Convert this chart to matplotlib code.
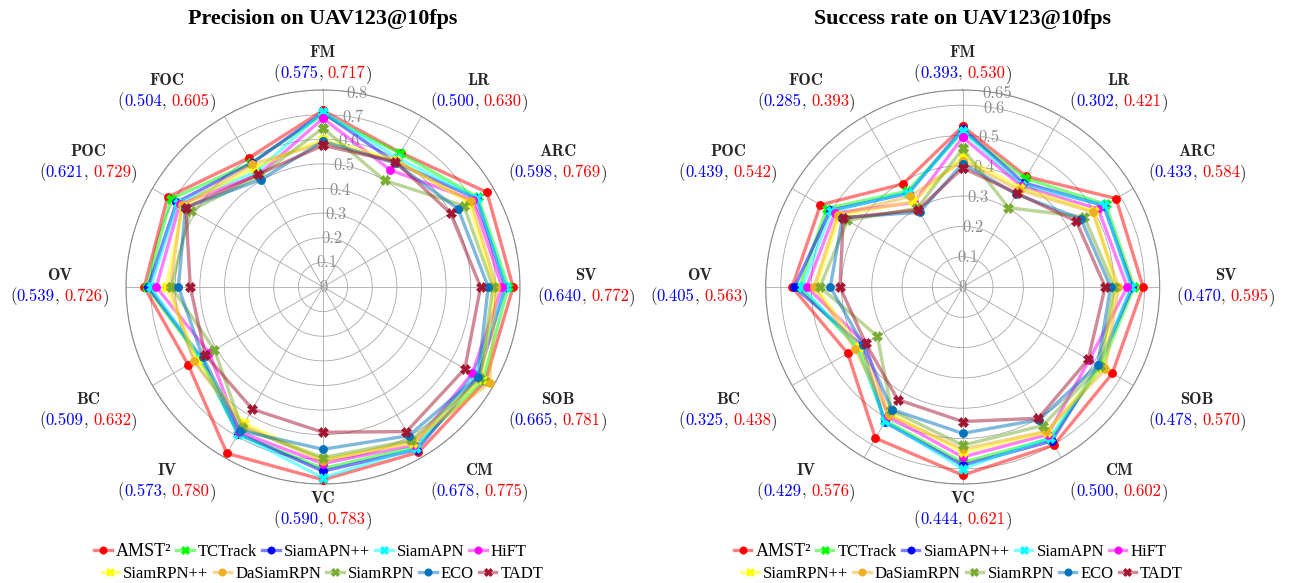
import numpy as np
import matplotlib
matplotlib.use('Agg')
import matplotlib.pyplot as plt
from matplotlib.colors import to_rgba
from matplotlib.lines import Line2D
from matplotlib.offsetbox import TextArea, HPacker, VPacker, AnnotationBbox, DrawingArea

# ---------------- data ----------------
attributes = ['FM', 'LR', 'ARC', 'SV', 'SOB', 'CM', 'VC', 'IV', 'BC', 'OV', 'POC', 'FOC']
trackers = ['AMST²', 'TCTrack', 'SiamAPN++', 'SiamAPN', 'HiFT',
            'SiamRPN++', 'DaSiamRPN', 'SiamRPN', 'ECO', 'TADT']

# Precision on UAV123@10fps, one list per attribute, tracker order as above
prec_FM  = [0.717, 0.700, 0.708, 0.712, 0.685, 0.600, 0.585, 0.645, 0.592, 0.575]
prec_LR  = [0.630, 0.627, 0.585, 0.605, 0.548, 0.595, 0.590, 0.500, 0.582, 0.588]
prec_ARC = [0.769, 0.727, 0.720, 0.722, 0.705, 0.684, 0.695, 0.660, 0.634, 0.598]
prec_SV  = [0.772, 0.752, 0.740, 0.745, 0.727, 0.698, 0.704, 0.690, 0.671, 0.640]
prec_SOB = [0.762, 0.752, 0.728, 0.705, 0.700, 0.745, 0.781, 0.738, 0.727, 0.665]
prec_CM  = [0.775, 0.750, 0.762, 0.755, 0.740, 0.731, 0.722, 0.718, 0.697, 0.678]
prec_VC  = [0.783, 0.737, 0.748, 0.775, 0.717, 0.700, 0.707, 0.693, 0.659, 0.590]
prec_IV  = [0.780, 0.690, 0.688, 0.690, 0.680, 0.640, 0.650, 0.660, 0.673, 0.573]
prec_BC  = [0.632, 0.578, 0.572, 0.575, 0.534, 0.590, 0.605, 0.509, 0.565, 0.552]
prec_OV  = [0.726, 0.716, 0.710, 0.700, 0.677, 0.636, 0.620, 0.616, 0.587, 0.539]
prec_POC = [0.729, 0.714, 0.687, 0.682, 0.672, 0.658, 0.662, 0.621, 0.645, 0.643]
prec_FOC = [0.605, 0.582, 0.580, 0.540, 0.525, 0.560, 0.575, 0.520, 0.504, 0.528]

# Success rate on UAV123@10fps
succ_FM  = [0.530, 0.512, 0.522, 0.514, 0.494, 0.428, 0.417, 0.457, 0.407, 0.393]
succ_LR  = [0.421, 0.414, 0.398, 0.390, 0.385, 0.379, 0.370, 0.302, 0.354, 0.357]
succ_ARC = [0.584, 0.545, 0.537, 0.540, 0.516, 0.500, 0.495, 0.463, 0.450, 0.433]
succ_SV  = [0.595, 0.565, 0.560, 0.555, 0.543, 0.505, 0.514, 0.500, 0.488, 0.470]
succ_SOB = [0.570, 0.527, 0.518, 0.520, 0.482, 0.530, 0.543, 0.522, 0.514, 0.478]
succ_CM  = [0.602, 0.578, 0.587, 0.575, 0.562, 0.553, 0.550, 0.528, 0.505, 0.500]
succ_VC  = [0.621, 0.579, 0.588, 0.599, 0.561, 0.546, 0.535, 0.522, 0.483, 0.444]
succ_IV  = [0.576, 0.510, 0.515, 0.512, 0.492, 0.480, 0.488, 0.470, 0.467, 0.429]
succ_BC  = [0.438, 0.400, 0.385, 0.400, 0.372, 0.395, 0.410, 0.325, 0.380, 0.370]
succ_OV  = [0.563, 0.539, 0.555, 0.530, 0.515, 0.484, 0.490, 0.471, 0.437, 0.405]
succ_POC = [0.542, 0.518, 0.505, 0.500, 0.487, 0.470, 0.477, 0.439, 0.458, 0.455]
succ_FOC = [0.393, 0.365, 0.357, 0.360, 0.322, 0.326, 0.345, 0.300, 0.285, 0.294]

prec_rings = [0.1, 0.2, 0.3, 0.4, 0.5, 0.6, 0.7, 0.8]
succ_rings = [0.1, 0.2, 0.3, 0.4, 0.5, 0.6, 0.65]

titles = ['Precision on UAV123@10fps', 'Success rate on UAV123@10fps']

# ---------------- styles ----------------
colors = ['#FF0000', '#00FF00', '#0000FF', '#00FFFF', '#FF00FF',
          '#FFFF00', '#EDB120', '#77AC30', '#0072BD', '#A2142F']
markers = ['o', 'X', 'o', 'X', 'o', 'X', 'o', 'X', 'o', 'X']
msizes = [5.8 if m == 'o' else 6.8 for m in markers]
LINE_ALPHA = 0.5
LW = 2.4
TXT = '#262626'
GRID = '#a8a8a8'
LEG_FS = 12

prec = np.array([prec_FM, prec_LR, prec_ARC, prec_SV, prec_SOB, prec_CM,
                 prec_VC, prec_IV, prec_BC, prec_OV, prec_POC, prec_FOC])
succ = np.array([succ_FM, succ_LR, succ_ARC, succ_SV, succ_SOB, succ_CM,
                 succ_VC, succ_IV, succ_BC, succ_OV, succ_POC, succ_FOC])

W, H = 1291, 583
fig = plt.figure(figsize=(W / 100, H / 100), dpi=100)

R_PX = 197.0
centers = [(323.0, 287.0), (962.7, 287.0)]

n = len(attributes)
theta = np.arange(n) * 2 * np.pi / n

handles = [Line2D([], [], color=to_rgba(colors[k], LINE_ALPHA), lw=LW,
                  marker=markers[k], ms=msizes[k] * 0.9, mfc=colors[k],
                  mec=colors[k], mew=0.5) for k in range(len(trackers))]


def add_legend_row(sl, xc, yc, cs):
    leg = fig.legend(handles[sl], trackers[sl], loc='center',
                     bbox_to_anchor=(xc / W, 1 - yc / H), ncol=5,
                     frameon=False, prop={'family': 'Liberation Serif', 'size': LEG_FS},
                     handlelength=1.05, handletextpad=0.25, columnspacing=cs,
                     borderpad=0, borderaxespad=0)
    if sl.start == 0:
        leg.get_texts()[0].set_fontsize(13)
    return leg


def make_radar(center, data, rings, title):
    cx, cy = center
    rect = [(cx - R_PX) / W, 1 - (cy + R_PX) / H, 2 * R_PX / W, 2 * R_PX / H]
    ax = fig.add_axes(rect, projection='polar')
    ax.set_theta_zero_location('N')
    ax.set_theta_direction(-1)
    rmax = rings[-1]
    ax.set_ylim(0, rmax)
    ax.set_xticks(theta)
    ax.set_xticklabels([])
    ax.set_yticks(rings)
    ax.set_yticklabels([])
    ax.grid(True, color=GRID, lw=0.6)
    ax.spines['polar'].set_color('#8a8a8a')
    ax.spines['polar'].set_linewidth(0.8)
    ax.tick_params(length=0)

    # ring labels
    for r in [0] + list(rings):
        ax.text(np.deg2rad(10), r, f'{r:g}', ha='center', va='center',
                color='#8c8c8c', fontsize=12, family='cmr10', zorder=1)

    # series
    th_c = np.append(theta, theta[0])
    for k in range(len(trackers)):
        v = np.append(data[:, k], data[0, k])
        ax.plot(th_c, v, color=to_rgba(colors[k], LINE_ALPHA), lw=LW,
                marker=markers[k], ms=msizes[k], mfc=colors[k], mec=colors[k],
                mew=0.5, zorder=3 + k * 0.01, clip_on=False)

    # attribute labels with (min, max)
    for i, name in enumerate(attributes):
        phi = np.pi / 2 - theta[i]
        c, s = np.cos(phi), np.sin(phi)
        bx = 0.0 if c > 0.01 else (1.0 if c < -0.01 else 0.5)
        shift = 0.25 if abs(s) > 0.7 else 0.05
        by = shift if s > 0.01 else (1.0 - shift if s < -0.01 else 0.5)
        vmin, vmax = data[i].min(), data[i].max()
        name_ta = TextArea(name, textprops=dict(family='cmb10', fontsize=12, color=TXT))
        parts = [
            TextArea('(', textprops=dict(family='cmr10', fontsize=12, color=TXT)),
            TextArea(f'{vmin:.3f}', textprops=dict(family='cmr10', fontsize=12, color='#0000FF')),
            TextArea(',', textprops=dict(family='cmr10', fontsize=12, color=TXT)),
            DrawingArea(3.6, 1),
            TextArea(f'{vmax:.3f}', textprops=dict(family='cmr10', fontsize=12, color='#FF0000')),
            TextArea(')', textprops=dict(family='cmr10', fontsize=12, color=TXT)),
        ]
        vals = HPacker(children=parts, align='baseline', pad=0, sep=0)
        box = VPacker(children=[name_ta, vals], align='center', pad=0, sep=3)
        ab = AnnotationBbox(box, (theta[i], rmax * 1.086), xycoords='data',
                            box_alignment=(bx, by), frameon=False, pad=0,
                            annotation_clip=False)
        ax.add_artist(ab)

    fig.text(cx / W, 1 - 19 / H, title, ha='center', va='center', fontsize=15.8,
             fontweight='bold', family='Liberation Serif', color='black')

    # legend rows: fit column spacing so each row spans the reference width
    rows = [(slice(0, 5), cx - 12.5, 551, 421), (slice(5, 10), cx - 0.5, 574, 435)]
    renderer = fig.canvas.get_renderer()
    fs_px = LEG_FS * 100 / 72
    for sl, lx, ly, wpx in rows:
        cs0 = 0.5
        leg = add_legend_row(sl, lx, ly, cs0)
        w0 = leg.get_window_extent(renderer).width
        leg.remove()
        cs = max(0.3, cs0 + (wpx - w0) / (4 * fs_px))
        add_legend_row(sl, lx, ly, cs)
    return ax


make_radar(centers[0], prec, prec_rings, titles[0])
make_radar(centers[1], succ, succ_rings, titles[1])

fig.savefig('out.png', dpi=100, facecolor='white')
